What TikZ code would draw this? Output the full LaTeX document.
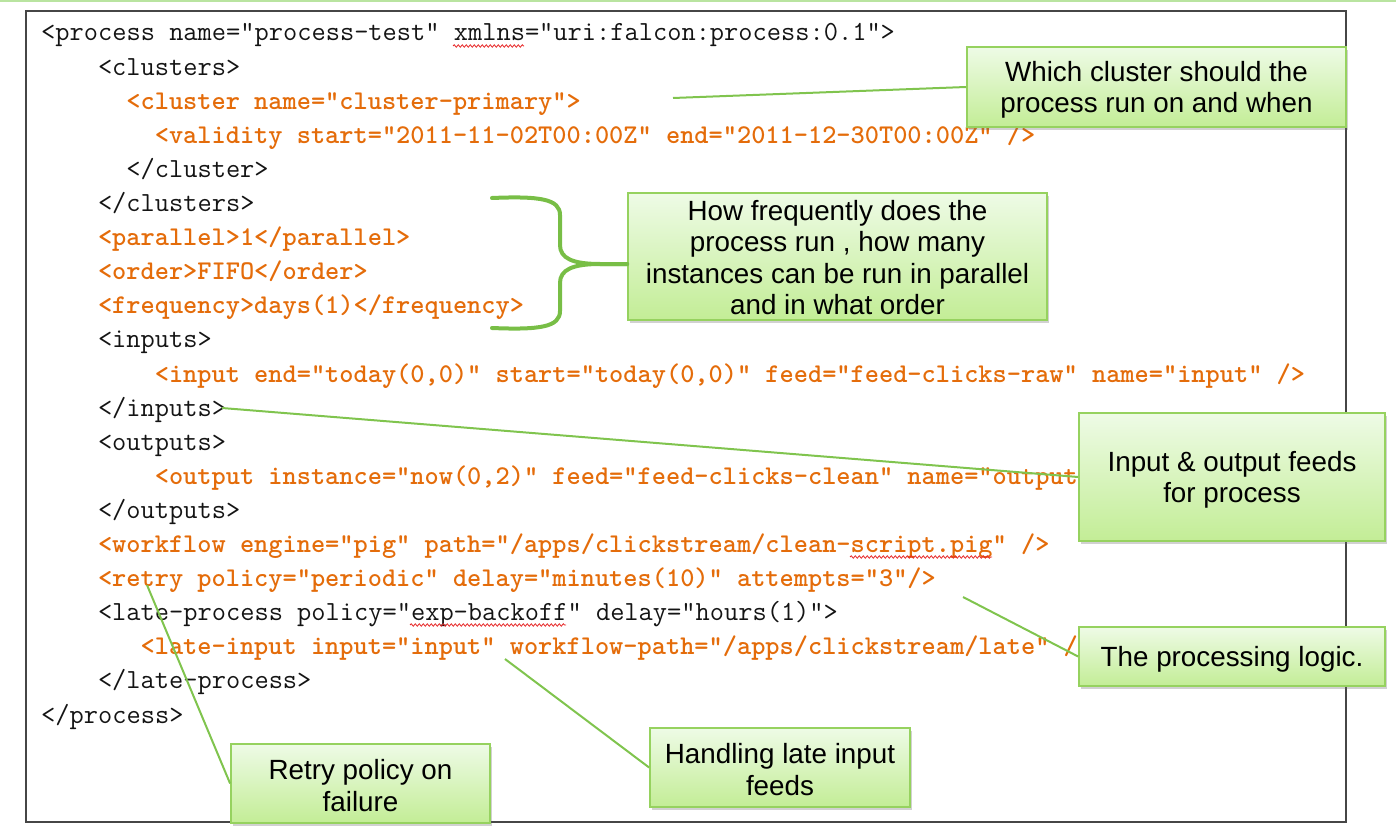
\documentclass[tikz,border=0pt]{standalone}
\usepackage{fontspec}
\usetikzlibrary{shadows,decorations.pathmorphing}
\newfontfamily\boxfnt{Liberation Sans}
\newcommand\codefnt{\fontsize{27.63}{30}\selectfont\ttfamily}
\newcommand\codehotfnt{\fontsize{27.05}{30}\selectfont\ttfamily\bfseries}
\definecolor{codeorange}{RGB}{228,108,10}
\definecolor{codeblack}{RGB}{20,20,20}
\definecolor{boxtop}{RGB}{238,251,230}
\definecolor{boxbot}{RGB}{195,237,150}
\definecolor{boxedge}{RGB}{150,210,95}
\definecolor{linkgreen}{RGB}{128,196,78}
\definecolor{bracegreen}{RGB}{120,190,70}
\definecolor{topgreen}{RGB}{185,228,160}
\definecolor{framegray}{RGB}{70,70,70}
\definecolor{squigred}{RGB}{230,40,40}
\tikzset{
  codeline/.style={anchor=base west, inner sep=0pt, text=codeblack, font=\codefnt},
  codehot/.style={codeline, text=codeorange, font=\codehotfnt},
  callout/.style={draw=boxedge, line width=1.8pt, top color=boxtop, bottom color=boxbot,
    drop shadow={shadow xshift=1.5pt, shadow yshift=-3pt, opacity=0.3, fill=black!60},
    inner sep=0pt},
  callouttext/.style={align=center, inner sep=0pt, text=black,
    font=\boxfnt\fontsize{27.8}{31.5}\selectfont},
  link/.style={draw=linkgreen, line width=2pt},
  bracestyle/.style={draw=bracegreen, line width=4pt, line cap=round},
  squig/.style={draw=squigred, line width=0.8pt, decorate,
    decoration={snake, amplitude=1.2pt, segment length=4pt}},
  frame/.style={draw=framegray, line width=1.8pt}
}
\begin{document}
\begin{tikzpicture}[x=1pt,y=-1pt]
\useasboundingbox (0,0) rectangle (1396,834);
\draw[draw=topgreen, line width=2pt] (0,1) -- (1396,1);
\draw[frame] (26,11) rectangle (1346,822);

% code lines
\node[codeline] (l1) at (41,41) {<process name="process-test" xmlns="uri:falcon:process:0.1”>};
\node[codeline] (l2) at (97.8,75.1) {<clusters>};
\node[codehot] (l3) at (126.2,109.2) {<cluster name="cluster-primary">};
\node[codehot] (l4) at (154.6,143.3) {<validity start="2011-11-02T00:00Z" end="2011-12-30T00:00Z" />};
\node[codeline] (l5) at (126.2,177.4) {</cluster>};
\node[codeline] (l6) at (97.8,211.5) {</clusters>};
\node[codehot] (l7) at (97.8,245.6) {<parallel>1</parallel>};
\node[codehot] (l8) at (97.8,279.7) {<order>FIFO</order>};
\node[codehot] (l9) at (97.8,313.8) {<frequency>days(1)</frequency>};
\node[codeline] (l10) at (97.8,347.9) {<inputs>};
\node[codehot] (l11) at (154.6,382) {<input end="today(0,0)" start="today(0,0)" feed="feed-clicks-raw" name="input" />};
\node[codeline] (l12) at (97.8,416.1) {</inputs>};
\node[codeline] (l13) at (97.8,450.2) {<outputs>};
\node[codehot] (l14) at (154.6,484.3) {<output instance="now(0,2)" feed="feed-clicks-clean" name="output" />};
\node[codeline] (l15) at (97.8,518.4) {</outputs>};
\node[codehot] (l16) at (97.8,552.5) {<workflow engine="pig" path="/apps/clickstream/clean-script.pig" />};
\node[codehot] (l17) at (97.8,586.6) {<retry policy="periodic" delay="minutes(10)" attempts="3"/>};
\node[codeline] (l18) at (97.8,620.7) {<late-process policy="exp-backoff" delay="hours(1)">};
\node[codehot] (l19) at (140.4,654.8) {<late-input input="input" workflow-path="/apps/clickstream/late" />};
\node[codeline] (l20) at (97.8,688.9) {</late-process>};
\node[codeline] (l21) at (41,723) {</process>};

% spelling marks
\draw[squig] (453,46) -- (524,46);
\draw[squig] (850,557) -- (992,557);
\draw[squig] (410,625) -- (566,625);

% callout boxes
\node[callout, minimum width=379pt, minimum height=80pt] (b1) at (1156.5,87) {};
\node[callout, minimum width=419pt, minimum height=127pt] (b2) at (837.5,256.5) {};
\node[callout, minimum width=306pt, minimum height=128pt] (b3) at (1232,477) {};
\node[callout, minimum width=306pt, minimum height=59pt] (b4) at (1232,656.5) {};
\node[callout, minimum width=259pt, minimum height=79pt] (b5) at (360.5,783.5) {};
\node[callout, minimum width=260pt, minimum height=79pt] (b6) at (780,767.5) {};

% callout texts
\node[callouttext] (t1) at ([yshift=-3pt]b1.center) {Which cluster should the\\process run on and when};
\node[callouttext] (t2) at ([yshift=-1pt]b2.center) {How frequently does the\\process run , how many\\instances can be run in parallel\\and in what order};
\node[callouttext] (t3) at ([yshift=-3pt]b3.center) {Input \& output feeds\\for process};
\node[callouttext] (t4) at ([yshift=-3pt]b4.center) {The processing logic.};
\node[callouttext] (t5) at ([yshift=-2pt]b5.center) {Retry policy on\\failure};
\node[callouttext] (t6) at ([yshift=-2pt]b6.center) {Handling late input\\feeds};

% connector free ends
\coordinate (c1) at (673,98);
\coordinate (c2) at (222,408);
\coordinate (c3) at (963,597);
\coordinate (c4) at (147,585);
\coordinate (c5) at (505,659);
\coordinate (brtip) at ([yshift=-7.5pt]b2.west);

\draw[link] (c1) -- (b1.west);
\draw[link] (c2) -- (b3.west);
\draw[link] (c3) -- (b4.west);
\draw[link] (c4) -- (b5.west);
\draw[link] (c5) -- (b6.west);

% brace
\draw[bracestyle] (492,198) .. controls (540,196) and (560,199) .. (560,215) -- (560,245) .. controls (560,258) and (572,264) .. (600,264) -- (brtip);
\draw[bracestyle] (492,328) .. controls (540,330) and (560,327) .. (560,311) -- (560,283) .. controls (560,270) and (572,264) .. (600,264) -- (brtip);
\end{tikzpicture}
\end{document}
